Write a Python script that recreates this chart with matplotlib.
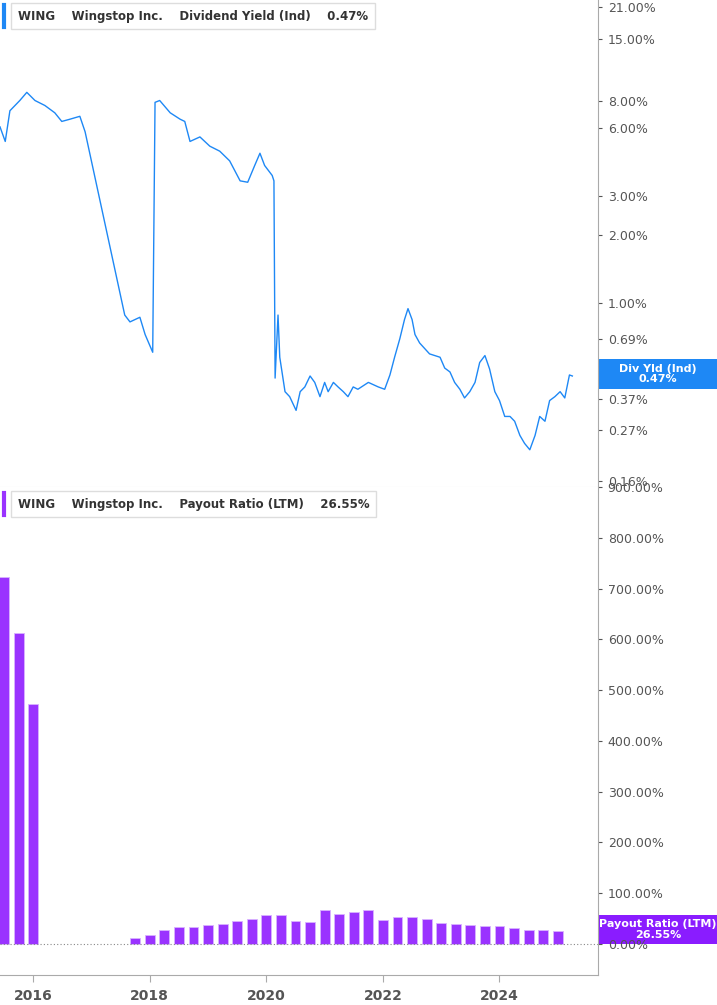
import matplotlib.pyplot as plt
from matplotlib.ticker import FixedLocator, NullLocator
import numpy as np

# dividend yield (%)
yld_dates = [2015.43, 2015.52, 2015.60, 2015.77, 2015.89, 2016.03, 2016.20, 2016.37, 2016.49,
             2016.63, 2016.80, 2016.89, 2017.57, 2017.66, 2017.83, 2017.92, 2018.05,
             2018.09, 2018.17, 2018.35, 2018.52, 2018.60, 2018.69, 2018.86, 2019.03, 2019.20,
             2019.37, 2019.55, 2019.68, 2019.80, 2019.89, 2019.97, 2020.10, 2020.13,
             2020.15, 2020.20, 2020.23, 2020.32, 2020.40, 2020.51, 2020.58, 2020.66, 2020.75,
             2020.83, 2020.92, 2021.00, 2021.06, 2021.15, 2021.23, 2021.32, 2021.40, 2021.49,
             2021.57, 2021.75, 2021.92, 2022.03, 2022.12, 2022.20, 2022.29, 2022.37, 2022.43,
             2022.50, 2022.55, 2022.63, 2022.80, 2022.98, 2023.06, 2023.15, 2023.23, 2023.32,
             2023.40, 2023.49, 2023.58, 2023.66, 2023.75, 2023.83, 2023.92, 2024.00, 2024.09,
             2024.18, 2024.26, 2024.35, 2024.43, 2024.52, 2024.61, 2024.69, 2024.78, 2024.86,
             2024.95, 2025.04, 2025.12, 2025.20, 2025.25]
yld_vals = [6.1, 5.25, 7.2, 8.0, 8.7, 8.0, 7.6, 7.05, 6.45, 6.6, 6.8, 5.8, 0.88, 0.82, 0.86,
            0.72, 0.60, 7.85, 8.0, 7.05, 6.6, 6.45, 5.25, 5.5, 5.0, 4.75, 4.3, 3.5, 3.45, 4.1,
            4.65, 4.1, 3.7, 3.5, 0.46, 0.88, 0.57, 0.40, 0.38, 0.33, 0.40, 0.42, 0.47, 0.44,
            0.38, 0.44, 0.40, 0.44, 0.42, 0.40, 0.38, 0.42, 0.41, 0.44, 0.42, 0.41, 0.475,
            0.57, 0.69, 0.84, 0.94, 0.84, 0.72, 0.66, 0.59, 0.57, 0.51, 0.49, 0.44, 0.41,
            0.375, 0.40, 0.44, 0.54, 0.58, 0.505, 0.40, 0.365, 0.31, 0.31, 0.295, 0.255,
            0.235, 0.22, 0.255, 0.31, 0.295, 0.365, 0.38, 0.40, 0.375, 0.475, 0.47]

# payout ratio LTM (%) quarterly
pay_dates = [2015.5, 2015.75, 2016.0] + [2017.75 + 0.25 * i for i in range(30)]
pay_vals = [722, 612, 472,
            11, 18, 27, 33, 33, 37, 39, 45, 49, 58, 57, 46, 44, 67, 60, 64, 67, 47,
            54, 54, 50, 42, 39, 37, 35, 35, 31, 28, 28, 26.55]

yld_ticks = [0.16, 0.27, 0.37, 0.69, 1, 2, 3, 6, 8, 15, 21]
pay_ticks = [0, 100, 200, 300, 400, 500, 600, 700, 800, 900]
year_ticks = [2016, 2018, 2020, 2022, 2024]

blue = "#1e88f5"
purple = "#9a33ff"
grey = "#555555"
xmin, xmax = 2015.43, 2025.69

fig = plt.figure(figsize=(7.17, 10.05), dpi=100)
ax1 = fig.add_axes([0, 1 - 487 / 1005, 598 / 717, 487 / 1005])
ax2 = fig.add_axes([0, 1 - 975 / 1005, 598 / 717, 488 / 1005])

for ax in (ax1, ax2):
    ax.set_xlim(xmin, xmax)
    for s in ("top", "left"):
        ax.spines[s].set_visible(False)
    ax.spines["right"].set_color("#aaaaaa")
    ax.spines["bottom"].set_color("#aaaaaa")
    ax.yaxis.tick_right()
    ax.tick_params(axis="y", length=3, color=grey, labelcolor=grey, labelsize=9, pad=4)

# top panel
ax1.plot(yld_dates, yld_vals, color=blue, lw=1.0)
ax1.set_yscale("log")
ax1.set_ylim(0.15, 22.5)
ax1.yaxis.set_major_locator(FixedLocator(yld_ticks))
ax1.yaxis.set_minor_locator(NullLocator())
ax1.set_yticklabels([f"{t:.2f}%" for t in yld_ticks])
ax1.set_xticks([])
ax1.spines["bottom"].set_color("#dddddd")
ax1.add_patch(plt.Rectangle((1.0, 0.202), 0.2, 0.06, transform=ax1.transAxes, fc=blue,
                            ec="none", clip_on=False))
ax1.text(1.1, 0.232, "Div Yld (Ind)\n0.47%", transform=ax1.transAxes, ha="center", va="center",
         fontsize=8, color="white", fontweight="bold", linespacing=1.05)
ax1.text(0.03, 0.967, "WING    Wingstop Inc.    Dividend Yield (Ind)    0.47%", transform=ax1.transAxes,
         fontsize=8.5, fontweight="bold", color="#333333", va="center",
         bbox=dict(boxstyle="square,pad=0.55", fc="white", ec="#dddddd"))
ax1.plot([0.007, 0.007], [0.945, 0.99], transform=ax1.transAxes, color=blue, lw=3)

# bottom panel
ax2.bar(pay_dates, pay_vals, width=0.17, color=purple, edgecolor="#d9b3ff", linewidth=0.6)
ax2.set_ylim(-61, 900)
ax2.set_yticks(pay_ticks)
ax2.set_yticklabels([f"{t:.2f}%" for t in pay_ticks])
ax2.axhline(0, color="#888888", lw=0.8, ls=(0, (1, 2)))
ax2.set_xticks(year_ticks)
ax2.tick_params(axis="x", length=5, color="#aaaaaa", labelcolor=grey, labelsize=10, pad=5)
for lab in ax2.get_xticklabels():
    lab.set_fontweight("bold")
ax2.add_patch(plt.Rectangle((1.0, 0.063), 0.2, 0.06, transform=ax2.transAxes, fc="#8a1cff",
                            ec="none", clip_on=False))
ax2.text(1.1, 0.093, "Payout Ratio (LTM)\n26.55%", transform=ax2.transAxes, ha="center", va="center",
         fontsize=8, color="white", fontweight="bold", linespacing=1.05)
ax2.text(0.03, 0.965, "WING    Wingstop Inc.    Payout Ratio (LTM)    26.55%", transform=ax2.transAxes,
         fontsize=8.5, fontweight="bold", color="#333333", va="center",
         bbox=dict(boxstyle="square,pad=0.55", fc="white", ec="#dddddd"))
ax2.plot([0.007, 0.007], [0.943, 0.988], transform=ax2.transAxes, color=purple, lw=3)

fig.savefig("out.png", dpi=100)
